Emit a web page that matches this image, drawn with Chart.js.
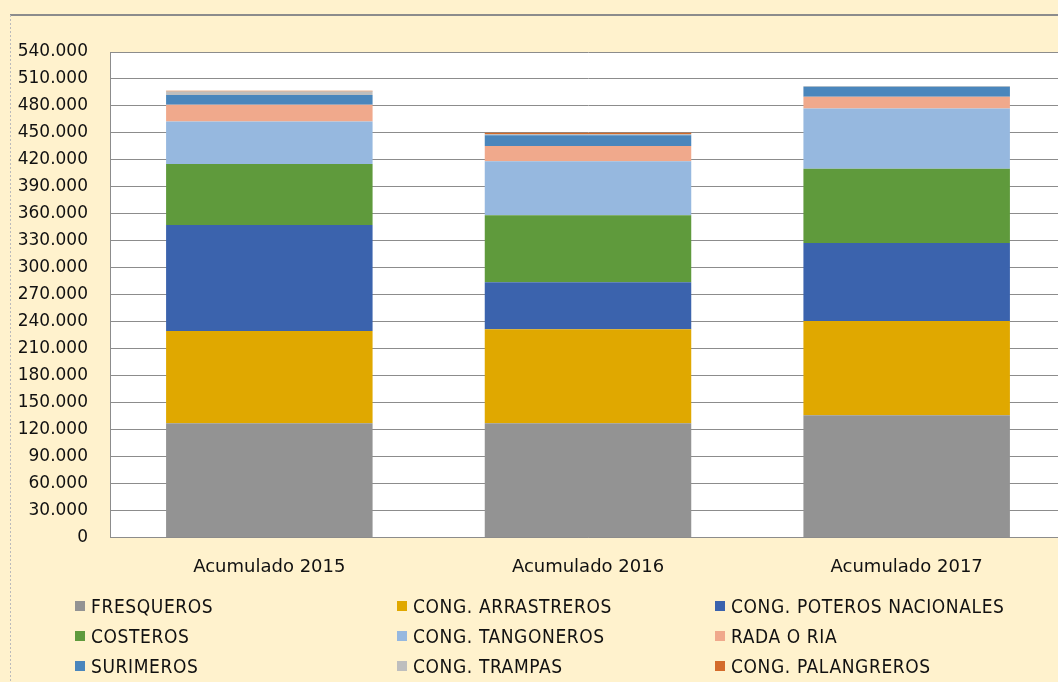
<!DOCTYPE html>
<html>
<head>
<meta charset="utf-8">
<script src="https://cdn.jsdelivr.net/npm/chart.js@4"></script>
<style>
  html, body { margin: 0; padding: 0; background: #fff; }
  #wrap { position: relative; width: 1058px; height: 682px; overflow: hidden; }
  #legend {
    position: absolute; left: 75px; top: 596px;
    display: grid; grid-template-columns: 322px 318px 320px; row-gap: 11px;
    font-family: "DejaVu Sans Condensed", "DejaVu Sans", sans-serif; font-stretch: condensed;
    font-size: 19px; letter-spacing: 0.6px; color: #111;
  }
  #legend div { display: flex; align-items: center; height: 19px; white-space: nowrap; }
  #legend span.box { display: inline-block; width: 10px; height: 10px; margin-right: 6px; }
</style>
</head>
<body>
<div id="wrap">
  <canvas id="c" width="1066" height="682"></canvas>
  <div id="legend"></div>
</div>
<script>
const categories = ['Acumulado 2015', 'Acumulado 2016', 'Acumulado 2017']

const seriesNames = [
  'FRESQUEROS', 'CONG. ARRASTREROS', 'CONG. POTEROS NACIONALES',
  'COSTEROS', 'CONG. TANGONEROS', 'RADA O RIA',
  'SURIMEROS', 'CONG. TRAMPAS', 'CONG. PALANGREROS'
]

const fresqueros  = [127000, 127000, 136000]
const arrastreros = [102500, 104500, 104700]
const poteros     = [118000, 52300, 86900]
const costeros    = [68000, 74600, 82400]
const tangoneros  = [47100, 60200, 67100]
const radaOria    = [18600, 16700, 13000]
const surimeros   = [11100, 12200, 11200]
const trampas     = [3700, 1200, 1000]
const palangreros = [800, 1500, 0]

const yTicks = [0, 30000, 60000, 90000, 120000, 150000, 180000, 210000, 240000, 270000,
  300000, 330000, 360000, 390000, 420000, 450000, 480000, 510000, 540000]

const colors = ['#939393', '#E0A800', '#3B63AD', '#5F9A3C', '#96B8DF',
  '#F0A98C', '#4A86BC', '#BEBEBE', '#D46B2A']

const values = [fresqueros, arrastreros, poteros, costeros, tangoneros,
  radaOria, surimeros, trampas, palangreros]

const datasets = seriesNames.map((name, i) => ({
  label: name,
  data: values[i],
  backgroundColor: colors[i],
  borderWidth: 0,
  barPercentage: 0.81,
  categoryPercentage: 0.8
}))

// page background, white plot area, outer frame lines
const frame = {
  id: 'frame',
  beforeDraw(chart) {
    const { ctx, chartArea: a } = chart
    ctx.save()
    ctx.fillStyle = '#FFF2CD'
    ctx.fillRect(0, 0, chart.width, chart.height)
    ctx.fillStyle = '#fff'
    ctx.fillRect(a.left, a.top, a.right - a.left, a.bottom - a.top)
    ctx.strokeStyle = '#8c8c8c'
    ctx.lineWidth = 2
    ctx.beginPath()
    ctx.moveTo(10, 15)
    ctx.lineTo(chart.width, 15)
    ctx.stroke()
    ctx.strokeStyle = '#bbb'
    ctx.lineWidth = 1
    ctx.setLineDash([2, 2])
    ctx.beginPath()
    ctx.moveTo(10.5, 15)
    ctx.lineTo(10.5, chart.height)
    ctx.stroke()
    ctx.restore()
  }
}

const fmt = v => v === 0 ? '0' : v.toLocaleString('de-DE')

new Chart(document.getElementById('c'), {
  type: 'bar',
  data: { labels: categories, datasets },
  options: {
    responsive: false,
    animation: false,
    layout: { padding: { top: 52, right: 0, bottom: 93, left: 0 } },
    scales: {
      x: {
        stacked: true,
        grid: { display: false },
        border: { color: '#8c8c8c' },
        ticks: { color: '#111', font: { family: 'DejaVu Sans', size: 18 }, padding: 11 }
      },
      y: {
        stacked: true,
        min: 0,
        max: 540000,
        afterBuildTicks: axis => { axis.ticks = yTicks.map(v => ({ value: v })) },
        afterFit: axis => { axis.width = 110 },
        grid: { color: '#8c8c8c', drawTicks: false },
        border: { color: '#8c8c8c' },
        ticks: {
          color: '#111',
          padding: 22,
          font: { family: 'DejaVu Sans', size: 17 },
          callback: v => fmt(v)
        }
      }
    },
    plugins: {
      legend: { display: false },
      tooltip: { enabled: false }
    }
  },
  plugins: [frame]
})

const legend = document.getElementById('legend')
seriesNames.forEach((name, i) => {
  const item = document.createElement('div')
  item.innerHTML = `<span class="box" style="background:${colors[i]}"></span>${name}`
  legend.appendChild(item)
})
</script>
</body>
</html>
